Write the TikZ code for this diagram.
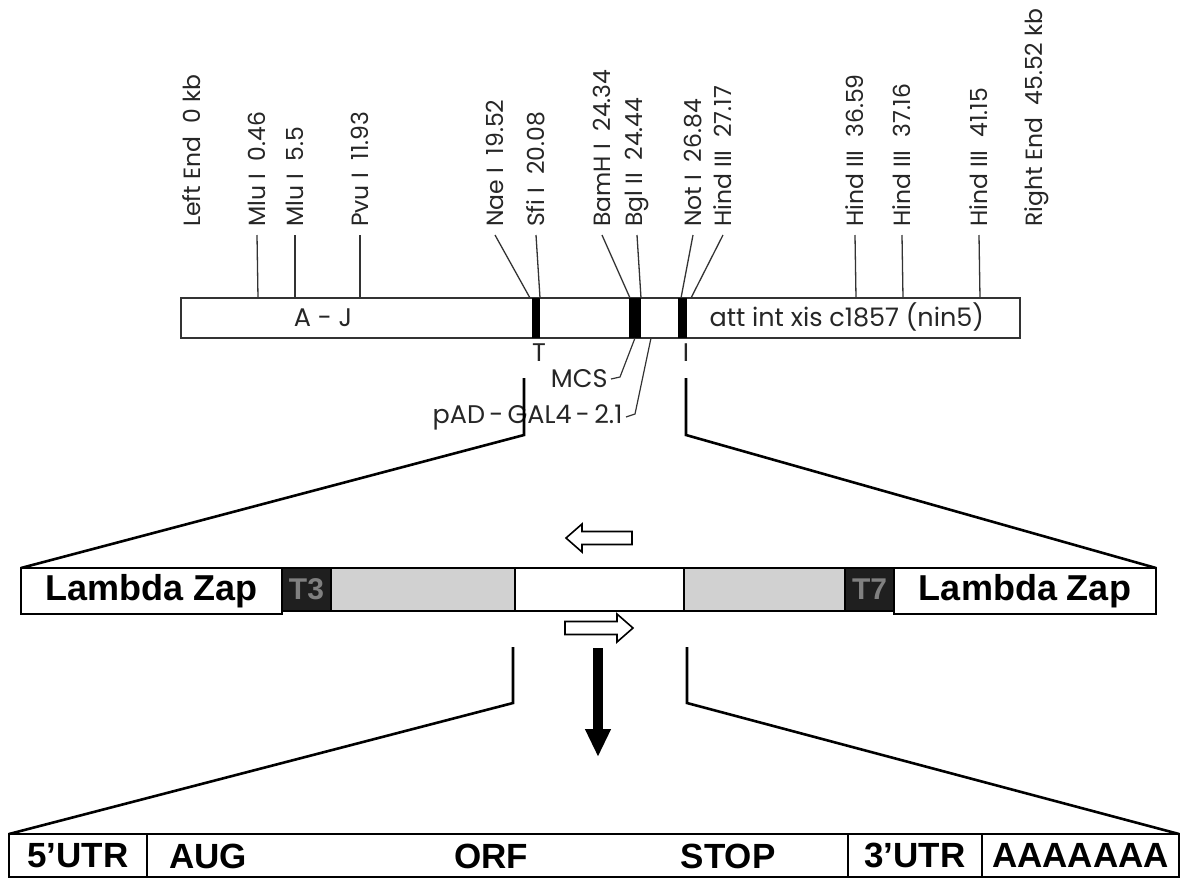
\documentclass[tikz,border=0pt]{standalone}
\usepackage{fontspec}
\setmainfont{Liberation Sans}
\newfontfamily\mapfont{Poppins}
\usetikzlibrary{arrows.meta,positioning,calc}

\begin{document}
\begin{tikzpicture}[x=1pt, y=-1pt,
  >=Latex,
  line/.style={draw=black!80, line width=1.2pt},
  tick/.style={draw=black!80, line width=1.3pt},
  zoomline/.style={draw=black, line width=2.6pt, line join=miter},
  mapbar/.style={line, minimum height=40pt, inner sep=0pt, outer sep=0pt, anchor=north west},
  site/.style={fill=black, minimum height=40pt, inner sep=0pt, outer sep=0pt, anchor=north west},
  maptext/.style={font=\mapfont\fontsize{25.5}{29}\selectfont, text=black!85},
  sitelabel/.style={font=\mapfont\fontsize{23.5}{27}\selectfont, text=black!85, rotate=90, anchor=west, inner sep=0pt},
  zapbox/.style={draw=black, line width=1.6pt, minimum height=46pt, inner sep=0pt, outer sep=0pt, anchor=north west, font=\bfseries\fontsize{36}{40}\selectfont},
  insertbox/.style={draw=black, line width=1.6pt, minimum height=43pt, inner sep=0pt, outer sep=0pt, anchor=north west},
  promoter/.style={insertbox, fill=black!88, text=black!50, font=\bfseries\fontsize{30}{34}\selectfont},
  greybox/.style={insertbox, fill=black!18},
  cdna/.style={draw=black, line width=1.8pt, minimum height=43pt, inner sep=0pt, outer sep=0pt, anchor=north west, font=\bfseries\fontsize{35}{40}\selectfont},
  cdnatext/.style={font=\bfseries\fontsize{35}{40}\selectfont, inner sep=0pt},
  blockarrow/.style={draw=black, line width=1.6pt, fill=white, line join=miter}
]
\useasboundingbox (0,0) rectangle (1189,879);

% lambda map
\node[mapbar, minimum width=839pt] (lambdamap) at (181,298) {};
\node[site, minimum width=8pt] (sfi) at (532,298) {};
\node[site, minimum width=12pt] (mcs) at (629,298) {};
\node[site, minimum width=9pt] (notsite) at (678,298) {};
\node[maptext] (aj) at (323,318) {A - J};
\node[maptext, anchor=west] (late) at (706,317) {att int xis c1857 (nin5)};
\node[maptext] (tlabel) at (539,353) {T};
\node[maptext] (ilabel) at (686,353) {I};

\node[sitelabel] (leftend) at (192,227) {Left End~~0 kb};
\node[sitelabel] (rightend) at (1037,227) {Right End~~45.52 kb};
\foreach \x/\b/\t [count=\i] in {257/258/Mlu I~~0.46, 295/295/Mlu I~~5.5, 360/360/Pvu I~~11.93,
    495/530/Nae I~~19.52, 536/540/Sfi I~~20.08, 602/630/BamH I~~24.34, 637/641/Bgl II~~24.44,
    693/681/Not I~~26.84, 723/691/Hind III~~27.17, 855/856/Hind III~~36.59,
    902/903/Hind III~~37.16, 979/980/Hind III~~41.15}{
  \node[sitelabel] (site\i) at (\x,227) {\t};
  \draw[tick] ([yshift=-8pt]site\i.west) -- (\b,298);
}

% vector labels
\node[maptext, anchor=east] (mcslabel) at (611,379) {MCS};
\node[maptext, anchor=east] (padlabel) at (626,417) {pAD\,-\,GAL4\,-\,2.1};
\draw[line] (mcslabel.east) -- ++(9,-2) -- (mcs.south);
\draw[line] (padlabel.east) -- ++(9,-3) -- (651,338);

% lambda zap insert
\node[zapbox, minimum width=261pt] (zapL) at (21,568) {Lambda Zap};
\node[promoter, minimum width=49pt, right=0pt of zapL.north east, anchor=north west] (t3) {T3};
\node[greybox, minimum width=184pt, right=0pt of t3.north east, anchor=north west] (greyL) {};
\node[insertbox, minimum width=169pt, right=0pt of greyL.north east, anchor=north west] (cloning) {};
\node[greybox, minimum width=161pt, right=0pt of cloning.north east, anchor=north west] (greyR) {};
\node[promoter, minimum width=49pt, right=0pt of greyR.north east, anchor=north west] (t7) {T7};
\node[zapbox, minimum width=262pt, right=0pt of t7.north east, anchor=north west] (zapR) {Lambda Zap};

\coordinate (cutL) at (524,378);
\coordinate (cutR) at (686,378);
\draw[zoomline] (cutL) -- ++(0,57) -- (zapL.north west);
\draw[zoomline] (cutR) -- ++(0,57) -- (zapR.north east);

% orientation arrows
\draw[blockarrow] (566,538) -- (582,524) -- (582,531.5) -- (632,531.5) -- (632,544.5)
  -- (582,544.5) -- (582,552) -- cycle;
\draw[blockarrow] (633,628) -- (617,614) -- (617,621.5) -- (565,621.5) -- (565,634.5)
  -- (617,634.5) -- (617,642) -- cycle;

% cDNA
\node[cdna, minimum width=138pt] (utr5) at (9,834) {5’UTR};
\node[cdna, minimum width=701pt, right=0pt of utr5.north east, anchor=north west] (orf) {};
\node[cdna, minimum width=134pt, right=0pt of orf.north east, anchor=north west] (utr3) {3’UTR};
\node[cdna, minimum width=197pt, right=0pt of utr3.north east, anchor=north west] (polya) {AAAAAAA};
\node[cdnatext] (aug) at (208,856) {AUG};
\node[cdnatext] (orflabel) at (491,856) {ORF};
\node[cdnatext] (stop) at (728,856) {STOP};

\coordinate (cdnaL) at (513,647);
\coordinate (cdnaR) at (687,647);
\coordinate (downtop) at (598,648);
\coordinate (downtip) at (598,757);
\draw[zoomline] (cdnaL) -- ++(0,56) -- (utr5.north west);
\draw[zoomline] (cdnaR) -- ++(0,56) -- (polya.north east);
\draw[-{Triangle[length=28pt,width=24pt]}, line width=10pt] (downtop) -- (downtip);

\end{tikzpicture}
\end{document}
